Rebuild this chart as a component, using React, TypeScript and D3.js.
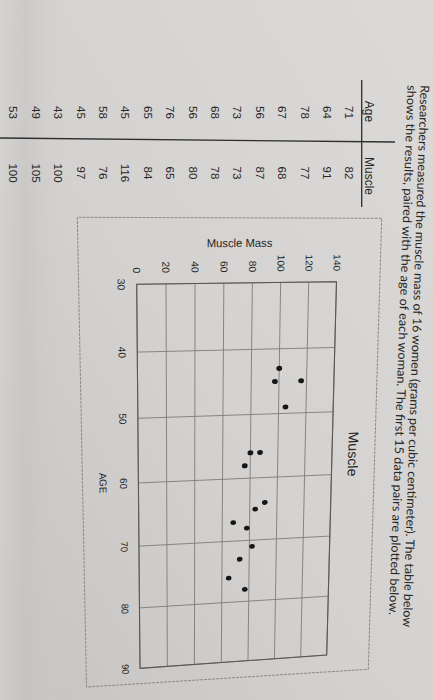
import React from "react";
import * as d3 from "d3";

// ---------- data ----------
const ages = [71, 64, 78, 67, 56, 73, 68, 56, 76, 65, 45, 58, 45, 43, 49, 53];
const muscle = [82, 91, 77, 68, 87, 73, 78, 80, 65, 84, 116, 76, 97, 100, 105, 100];
const plottedCount = 15;
const ageTicks = [30, 40, 50, 60, 70, 80, 90];
const muscleTicks = [0, 20, 40, 60, 80, 100, 120, 140];
const headerLines = [
  "Researchers measured the muscle mass of 16 women (grams per cubic centimeter). The table below",
  "shows the results, paired with the age of each woman. The first 15 data pairs are plotted below.",
];
const tableHeaders = ["Age", "Muscle"];
const chartTitle = "Muscle";
const xTitle = "AGE";
const yTitle = "Muscle Mass";

// ---------- layout ----------
const W = 433;
const H = 700;
// plot rectangle in the (unrotated) page frame
const PL = { u0: 284, u1: 680, vTop: 96, vBot: 296 };
// where the plot corners appear in the photo (perspective)
const cornerSrc: number[][] = [
  [PL.u0, PL.vBot],
  [PL.u0, PL.vTop],
  [PL.u1, PL.vBot],
  [PL.u1, PL.vTop],
];
const cornerDst: number[][] = [
  [136.7, 284.3],
  [336.5, 281.7],
  [140, 668.3],
  [326.7, 655],
];

function solveH(src: number[][], dst: number[][]) {
  const A: number[][] = [];
  const b: number[] = [];
  for (let i = 0; i < 4; i++) {
    const [x, y] = src[i];
    const [X, Y] = dst[i];
    A.push([x, y, 1, 0, 0, 0, -x * X, -y * X]);
    b.push(X);
    A.push([0, 0, 0, x, y, 1, -x * Y, -y * Y]);
    b.push(Y);
  }
  const n = 8;
  for (let c = 0; c < n; c++) {
    let p = c;
    for (let r = c + 1; r < n; r++) if (Math.abs(A[r][c]) > Math.abs(A[p][c])) p = r;
    [A[c], A[p]] = [A[p], A[c]];
    [b[c], b[p]] = [b[p], b[c]];
    for (let r = 0; r < n; r++) {
      if (r === c) continue;
      const f = A[r][c] / A[c][c];
      for (let k = c; k < n; k++) A[r][k] -= f * A[c][k];
      b[r] -= f * b[c];
    }
  }
  return b.map((v, i) => v / A[i][i]);
}
function applyH(h: number[], x: number, y: number) {
  const w = h[6] * x + h[7] * y + 1;
  return [(h[0] * x + h[1] * y + h[2]) / w, (h[3] * x + h[4] * y + h[5]) / w];
}

const Hf = solveH(cornerSrc, cornerDst);
const Hi = solveH(cornerDst, cornerSrc);
const P = (u: number, v: number) => applyH(Hf, u, v);
function local(u: number, v: number) {
  const p = P(u, v);
  const a = P(u + 1, v);
  const c = P(u, v + 1);
  return `matrix(${a[0] - p[0]},${a[1] - p[1]},${c[0] - p[0]},${c[1] - p[1]},${p[0]},${p[1]})`;
}
function localImg(x: number, y: number) {
  const [u, v] = applyH(Hi, x, y);
  return local(u, v);
}
const seg = (a: number[], b: number[]) => `M${a[0]},${a[1]}L${b[0]},${b[1]}`;

const chartFont = "'Liberation Sans', Arial, sans-serif";
const textFont = "Lato, 'Open Sans', sans-serif";
const ink = "#262626";

function lineText(str: string, x0: number, y0: number, x1: number, y1: number, size: number) {
  const ang = (Math.atan2(y1 - y0, x1 - x0) * 180) / Math.PI;
  const len = Math.hypot(x1 - x0, y1 - y0);
  return (
    <text
      transform={`translate(${x0},${y0}) rotate(${ang})`}
      fontFamily={textFont}
      fontSize={size}
      fill={ink}
      textLength={len}
      lengthAdjust="spacingAndGlyphs"
    >
      {str}
    </text>
  );
}

export default function App() {
  const x = d3.scaleLinear().domain([30, 90]).range([PL.u0, PL.u1]);
  const y = d3.scaleLinear().domain([0, 140]).range([PL.vBot, PL.vTop]);
  const pts = ages.slice(0, plottedCount).map((a, i) => ({ a, m: muscle[i] }));
  const border = [P(PL.u0, PL.vTop), P(PL.u1, PL.vTop), P(PL.u1, PL.vBot), P(PL.u0, PL.vBot)];

  const rowX = (i: number) => 349.5 - 22.4 * i;
  const colY = [112.5, 173];

  return (
    <svg
      width={W}
      height={H}
      viewBox={`0 0 ${W} ${H}`}
      style={{ position: "absolute", left: 0, top: 0, display: "block" }}
    >
      <defs>
        <linearGradient id="paper" x1="1" y1="0" x2="0" y2="1">
          <stop offset="0" stopColor="#dcdad8" />
          <stop offset="0.55" stopColor="#d4d2d0" />
          <stop offset="1" stopColor="#c6c4c2" />
        </linearGradient>
        <linearGradient id="fold" x1="0" y1="0" x2="1" y2="0">
          <stop offset="0" stopColor="#d6d4d2" stopOpacity="0.6" />
          <stop offset="0.06" stopColor="#c4c2c0" stopOpacity="0.5" />
          <stop offset="0.15" stopColor="#d0cecc" stopOpacity="0" />
        </linearGradient>
      </defs>
      <rect x={0} y={0} width={W} height={H} fill="url(#paper)" />
      <rect x={0} y={0} width={W} height={H} fill="url(#fold)" />

      {/* header text */}
      {lineText(headerLines[0], 420.5, 85, 403, 627, 12.3)}
      {lineText(headerLines[1], 407.5, 85, 389, 615, 12.3)}

      {/* table */}
      <path d="M361.7,80L361.7,207" stroke="#2e2e2e" strokeWidth={1.3} />
      <path d="M0,138L395,142" stroke="#2e2e2e" strokeWidth={1.3} />
      {tableHeaders.map((h, j) => (
        <text
          key={h}
          transform={`translate(369.5,${colY[j] + (j === 0 ? -1 : 3)}) rotate(90)`}
          textAnchor="middle"
          dy="0.35em"
          fontFamily={chartFont}
          fontSize={12}
          fill={ink}
        >
          {h}
        </text>
      ))}
      {ages.map((a, i) => (
        <g key={i}>
          <text
            transform={`translate(${rowX(i)},${colY[0]}) rotate(90)`}
            textAnchor="middle"
            dy="0.35em"
            fontFamily={chartFont}
            fontSize={11.5}
            fill={ink}
          >
            {a}
          </text>
          <text
            transform={`translate(${rowX(i)},${colY[1]}) rotate(90)`}
            textAnchor="middle"
            dy="0.35em"
            fontFamily={chartFont}
            fontSize={11.5}
            fill={ink}
          >
            {muscle[i]}
          </text>
        </g>
      ))}

      {/* chart outer box */}
      <polygon
        points="381.7,218.3 77.3,217.3 86.5,687 368.3,669.3"
        fill="none"
        stroke="#8c8a88"
        strokeWidth={1}
        strokeDasharray="3,1"
      />

      {/* gridlines */}
      {ageTicks.map((t) => (
        <path key={"xa" + t} d={seg(P(x(t), PL.vTop), P(x(t), PL.vBot))} stroke="#7e7c7a" strokeWidth={0.9} />
      ))}
      {muscleTicks.map((t) => (
        <path key={"ya" + t} d={seg(P(PL.u0, y(t)), P(PL.u1, y(t)))} stroke="#7e7c7a" strokeWidth={0.9} />
      ))}
      <polygon points={border.map((p) => p.join(",")).join(" ")} fill="none" stroke="#5a5856" strokeWidth={1.1} />

      {/* tick labels */}
      {muscleTicks.map((t) => (
        <g key={"yl" + t} transform={local(PL.u0 - 10.5, y(t))}>
          <text textAnchor="end" dy="0.35em" fontFamily={chartFont} fontSize={10} fill={ink}>
            {t}
          </text>
        </g>
      ))}
      {ageTicks.map((t) => (
        <g key={"xl" + t} transform={local(x(t), PL.vBot + 15)}>
          <text textAnchor="middle" dy="0.35em" fontFamily={chartFont} fontSize={10} fill={ink}>
            {t}
          </text>
        </g>
      ))}

      {/* titles */}
      <g transform={localImg(353, 454)}>
        <text textAnchor="middle" dy="0.35em" fontFamily={chartFont} fontSize={15} fill={ink}>
          {chartTitle}
        </text>
      </g>
      <g transform={localImg(103, 483)}>
        <text textAnchor="middle" dy="0.35em" fontFamily={chartFont} fontSize={10} fill={ink}>
          {xTitle}
        </text>
      </g>
      <g transform={localImg(239.5, 243)}>
        <text transform="rotate(-90)" textAnchor="middle" dy="0.35em" fontFamily={chartFont} fontSize={11.2} fill={ink}>
          {yTitle}
        </text>
      </g>

      {/* points */}
      {pts.map((d, i) => (
        <g key={"p" + i} transform={local(x(d.a), y(d.m))}>
          <ellipse rx={2.6} ry={3} fill="#161616" />
        </g>
      ))}
    </svg>
  );
}
